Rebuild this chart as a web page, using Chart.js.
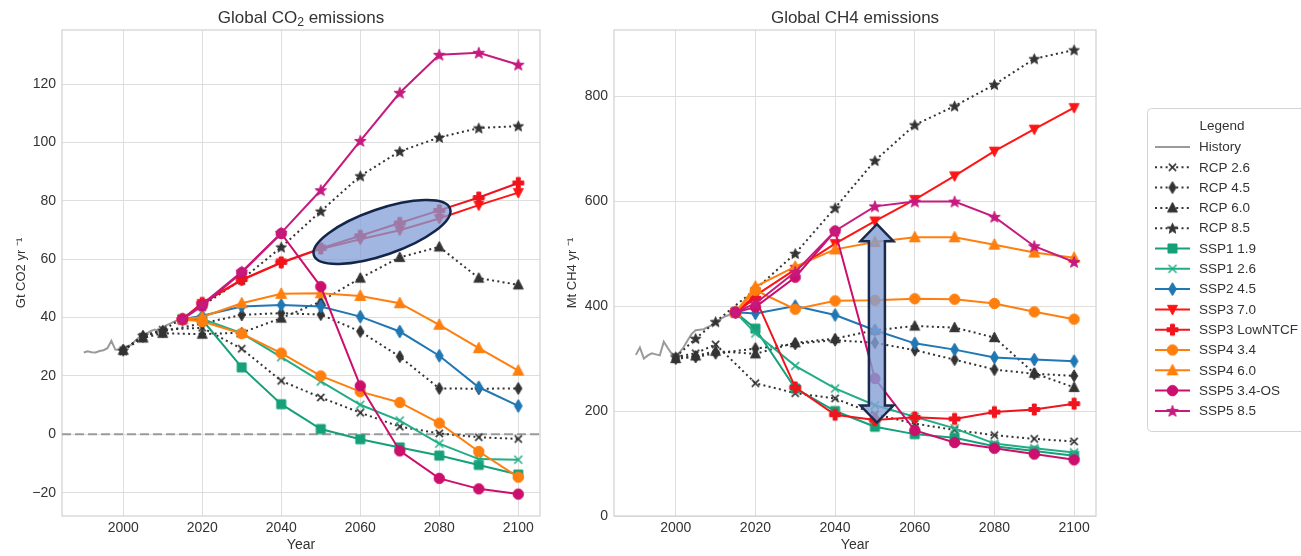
<!DOCTYPE html>
<html>
<head>
<meta charset="utf-8">
<script src="https://cdn.jsdelivr.net/npm/chart.js@4/dist/chart.umd.min.js"></script>
<style>
  html, body { margin: 0; padding: 0; background: #ffffff; }
  #wrap { position: relative; width: 1301px; height: 556px; overflow: hidden; background: #fff; }
  #co2 { position: absolute; left: 0; top: 0; width: 556px; height: 556px; }
  #ch4 { position: absolute; left: 556px; top: 0; width: 745px; height: 556px; }
</style>
</head>
<body>
<div id="wrap">
  <canvas id="co2" width="556" height="556"></canvas>
  <canvas id="ch4" width="745" height="556"></canvas>
</div>
<script>
// ---------------- data ----------------
const historyYears = [1990, 1991, 1992, 1993, 1994, 1995, 1996, 1997, 1998, 1999,
                      2000, 2001, 2002, 2003, 2004, 2005, 2006, 2007, 2008, 2009,
                      2010, 2011, 2012, 2013, 2014, 2015];
const rcpYears = [2000, 2005, 2010, 2020, 2030, 2040, 2050, 2060, 2070, 2080, 2090, 2100];
const sspYears = [2015, 2020, 2030, 2040, 2050, 2060, 2070, 2080, 2090, 2100];

const seriesNames = ['History', 'RCP 2.6', 'RCP 4.5', 'RCP 6.0', 'RCP 8.5',
                     'SSP1 1.9', 'SSP1 2.6', 'SSP2 4.5', 'SSP3 7.0', 'SSP3 LowNTCF',
                     'SSP4 3.4', 'SSP4 6.0', 'SSP5 3.4-OS', 'SSP5 8.5'];

// Global CO2 emissions, Gt CO2 / yr
const co2History = [28.0, 28.4, 28.1, 28.0, 28.5, 28.8, 29.5, 32.0, 29.0, 28.9,
                    29.6, 30.2, 30.6, 32.0, 33.2, 33.8, 34.6, 35.4, 35.9, 35.3,
                    36.6, 37.4, 38.0, 38.7, 39.1, 39.4];
const co2Rcp26 = [28.8, 33.5, 35.8, 36.5, 29.3, 18.3, 12.6, 7.4, 2.6, 0.3, -1.0, -1.6];
const co2Rcp45 = [28.8, 33.5, 35.2, 38.0, 40.9, 41.5, 41.0, 35.2, 26.6, 15.7, 15.6, 15.7];
const co2Rcp60 = [28.8, 33.0, 34.6, 34.3, 34.8, 39.8, 45.5, 53.5, 60.6, 64.2, 53.5, 51.2];
const co2Rcp85 = [28.8, 33.8, 35.6, 44.0, 53.0, 64.1, 76.4, 88.5, 96.9, 101.7, 104.9, 105.6];
const co2Ssp119 = [39.4, 39.2, 22.9, 10.3, 1.8, -1.7, -4.5, -7.3, -10.5, -13.8];
const co2Ssp126 = [39.4, 39.5, 34.6, 26.4, 18.1, 10.1, 4.7, -3.2, -8.5, -8.7];
const co2Ssp245 = [39.4, 40.6, 43.8, 44.3, 43.8, 40.3, 35.2, 26.9, 16.1, 9.7];
const co2Ssp370 = [39.4, 44.8, 52.8, 58.7, 63.5, 66.8, 69.9, 73.9, 78.5, 82.8];
const co2Ssp3Low = [39.4, 45.0, 53.0, 58.9, 63.7, 68.0, 72.4, 76.7, 81.1, 86.1];
const co2Ssp434 = [39.4, 38.6, 34.5, 27.8, 20.0, 14.6, 10.9, 3.8, -5.9, -14.7];
const co2Ssp460 = [39.4, 40.2, 44.9, 48.1, 48.3, 47.4, 44.9, 37.5, 29.5, 21.8];
const co2Ssp534os = [39.4, 44.0, 55.4, 68.8, 50.6, 16.6, -5.7, -15.1, -18.7, -20.5];
const co2Ssp585 = [39.4, 44.5, 55.7, 69.0, 83.6, 100.5, 117.0, 130.0, 130.7, 126.6];

// Global CH4 emissions, Mt CH4 / yr
const ch4History = [307, 321, 300, 306, 310, 308, 306, 332, 320, 309,
                    306, 312, 322, 335, 347, 354, 355, 356, 360, 363,
                    370, 374, 379, 382, 385, 388];
const ch4Rcp26 = [303, 310, 327, 253, 234, 224, 194, 176, 164, 154, 147, 142];
const ch4Rcp45 = [300, 303, 310, 319, 328, 335, 330, 316, 298, 279, 271, 267];
const ch4Rcp60 = [300, 305, 314, 309, 330, 338, 354, 362, 359, 340, 272, 245];
const ch4Rcp85 = [303, 338, 370, 432, 500, 587, 677, 745, 781, 822, 871, 888];
const ch4Ssp119 = [388, 357, 243, 200, 170, 156, 149, 133, 124, 115];
const ch4Ssp126 = [388, 348, 286, 243, 211, 189, 167, 138, 129, 121];
const ch4Ssp245 = [388, 386, 400, 383, 354, 329, 317, 302, 298, 295];
const ch4Ssp370 = [388, 420, 470, 519, 562, 603, 648, 695, 737, 778];
const ch4Ssp3Low = [388, 415, 245, 193, 183, 188, 185, 198, 203, 214];
const ch4Ssp434 = [388, 430, 394, 410, 411, 414, 413, 405, 389, 375];
const ch4Ssp460 = [388, 437, 475, 508, 522, 531, 531, 517, 502, 492];
const ch4Ssp534os = [388, 398, 455, 543, 262, 163, 140, 129, 118, 107];
const ch4Ssp585 = [388, 405, 465, 543, 590, 599, 599, 570, 514, 484];

// tick labels
const yearTicks = [2000, 2020, 2040, 2060, 2080, 2100];
const co2Ticks = [-20, 0, 20, 40, 60, 80, 100, 120];
const ch4Ticks = [0, 200, 400, 600, 800];

// ---------------- styling ----------------
const FONT = '"Liberation Sans", Arial, Helvetica, sans-serif';
const TEXT = '#333333';
Chart.defaults.font.family = FONT;
Chart.defaults.color = TEXT;

const DOT = [2, 3.3];
const lineStyles = {
  'History':      { color: '#9a9a9a', marker: null,      size: 0,  dash: [],  width: 2 },
  'RCP 2.6':      { color: '#333333', marker: 'x',       size: 9,  dash: DOT, width: 2 },
  'RCP 4.5':      { color: '#333333', marker: 'thinDia', size: 12, dash: DOT, width: 2 },
  'RCP 6.0':      { color: '#333333', marker: 'triUp',   size: 11, dash: DOT, width: 2 },
  'RCP 8.5':      { color: '#333333', marker: 'star',    size: 11, dash: DOT, width: 2 },
  'SSP1 1.9':     { color: '#14a078', marker: 'square',  size: 11, dash: [],  width: 2 },
  'SSP1 2.6':     { color: '#22ad86', marker: 'x',       size: 10, dash: [],  width: 2 },
  'SSP2 4.5':     { color: '#1f77b4', marker: 'thinDia', size: 13, dash: [],  width: 2 },
  'SSP3 7.0':     { color: '#ff1414', marker: 'triDown', size: 11, dash: [],  width: 2 },
  'SSP3 LowNTCF': { color: '#f0141e', marker: 'plus',    size: 11, dash: [],  width: 2 },
  'SSP4 3.4':     { color: '#ff7f0e', marker: 'circle',  size: 11, dash: [],  width: 2 },
  'SSP4 6.0':     { color: '#ff7f0e', marker: 'triUp',   size: 12, dash: [],  width: 2 },
  'SSP5 3.4-OS':  { color: '#cc0f6c', marker: 'circle',  size: 11, dash: [],  width: 2 },
  'SSP5 8.5':     { color: '#c61a7e', marker: 'star',    size: 12, dash: [],  width: 2 }
};

// marker glyphs rendered once and handed to Chart.js as point styles
function makeMarker(shape, color, size) {
  const pad = 2;
  const w = Math.ceil(size + pad * 2);
  const c = document.createElement('canvas');
  c.width = w; c.height = w;
  const g = c.getContext('2d');
  const r = size / 2, cx = w / 2, cy = w / 2;
  g.fillStyle = color; g.strokeStyle = color; g.lineWidth = 1; g.lineJoin = 'miter';
  g.beginPath();
  if (shape === 'circle') {
    g.arc(cx, cy, r * 0.95, 0, Math.PI * 2);
  } else if (shape === 'square') {
    g.rect(cx - r * 0.82, cy - r * 0.82, r * 1.64, r * 1.64);
  } else if (shape === 'triUp') {
    g.moveTo(cx, cy - r); g.lineTo(cx + r * 0.9, cy + r * 0.75); g.lineTo(cx - r * 0.9, cy + r * 0.75);
  } else if (shape === 'triDown') {
    g.moveTo(cx, cy + r); g.lineTo(cx + r * 0.9, cy - r * 0.75); g.lineTo(cx - r * 0.9, cy - r * 0.75);
  } else if (shape === 'thinDia') {
    g.moveTo(cx, cy - r); g.lineTo(cx + r * 0.6, cy); g.lineTo(cx, cy + r); g.lineTo(cx - r * 0.6, cy);
  } else if (shape === 'star') {
    for (let k = 0; k < 10; k++) {
      const rr = k % 2 === 0 ? r : r * 0.42;
      const a = -Math.PI / 2 + k * Math.PI / 5;
      const px = cx + rr * Math.cos(a), py = cy + rr * Math.sin(a) + r * 0.08;
      if (k === 0) g.moveTo(px, py); else g.lineTo(px, py);
    }
  } else if (shape === 'plus') {
    const t = r * 0.36;
    g.moveTo(cx - t, cy - r); g.lineTo(cx + t, cy - r); g.lineTo(cx + t, cy - t);
    g.lineTo(cx + r, cy - t); g.lineTo(cx + r, cy + t); g.lineTo(cx + t, cy + t);
    g.lineTo(cx + t, cy + r); g.lineTo(cx - t, cy + r); g.lineTo(cx - t, cy + t);
    g.lineTo(cx - r, cy + t); g.lineTo(cx - r, cy - t); g.lineTo(cx - t, cy - t);
  } else if (shape === 'x') {
    const d = r * 0.8;
    g.moveTo(cx - d, cy - d); g.lineTo(cx + d, cy + d);
    g.moveTo(cx + d, cy - d); g.lineTo(cx - d, cy + d);
    g.lineWidth = 1.6; g.stroke();
    return c;
  }
  g.closePath(); g.fill(); g.stroke();
  return c;
}

const markerCache = {};
seriesNames.forEach(n => {
  const s = lineStyles[n];
  markerCache[n] = s.marker ? makeMarker(s.marker, s.color, s.size) : null;
});

function pts(xs, ys) { return xs.map((x, i) => ({ x: x, y: ys[i] })); }

function buildDatasets(hist, rcps, ssps) {
  const list = [{ name: 'History', data: pts(historyYears, hist) }];
  rcps.forEach((v, i) => list.push({ name: seriesNames[1 + i], data: pts(rcpYears, v) }));
  ssps.forEach((v, i) => list.push({ name: seriesNames[5 + i], data: pts(sspYears, v) }));
  const n = list.length;
  return list.map((d, i) => {
    const s = lineStyles[d.name];
    return {
      label: d.name,
      data: d.data,
      borderColor: s.color,
      backgroundColor: s.color,
      borderWidth: s.width,
      borderDash: s.dash,
      borderCapStyle: 'butt',
      tension: 0,
      pointStyle: markerCache[d.name] || 'circle',
      pointRadius: markerCache[d.name] ? 5 : 0,
      pointHoverRadius: markerCache[d.name] ? 5 : 0,
      order: n - 1 - i
    };
  });
}

function fmtTick(v) { return v < 0 ? '\u2212' + Math.abs(v) : String(v); }

function makeScales(yMin, yMax, yTicks, yTitle, yWidth, yTitlePad) {
  return {
    x: {
      type: 'linear', min: 1984.5, max: 2105.5,
      afterBuildTicks: s => { s.ticks = yearTicks.map(v => ({ value: v })); },
      afterFit: s => { s.height = 40; },
      grid: { color: '#dedede', lineWidth: 1, drawTicks: false },
      border: { display: false },
      ticks: { padding: 4, autoSkip: false, maxRotation: 0, color: TEXT, font: { size: 14 }, callback: v => String(v) },
      title: { display: true, text: 'Year', color: TEXT, font: { size: 14 }, padding: { top: 0, bottom: 2 } }
    },
    y: {
      type: 'linear', min: yMin, max: yMax,
      afterBuildTicks: s => { s.ticks = yTicks.map(v => ({ value: v })); },
      afterFit: s => { s.width = yWidth; },
      grid: { color: '#dedede', lineWidth: 1, drawTicks: false },
      border: { display: false },
      ticks: { padding: 6, autoSkip: false, color: TEXT, font: { size: 14 }, callback: fmtTick },
      title: { display: true, text: yTitle, color: TEXT, font: { size: 13 }, padding: { top: yTitlePad, bottom: 0 } }
    }
  };
}

// light frame around the plotting area
const framePlugin = {
  id: 'frame',
  beforeDatasetsDraw(chart) {
    const a = chart.chartArea, ctx = chart.ctx;
    ctx.save();
    ctx.strokeStyle = '#d2d2d2'; ctx.lineWidth = 1.25;
    ctx.strokeRect(a.left, a.top, a.right - a.left, a.bottom - a.top);
    ctx.restore();
  }
};

// chart heading with optional subscript parts, centred over the plot area
function titlePlugin(parts) {
  return {
    id: 'heading',
    afterDraw(chart) {
      const ctx = chart.ctx, a = chart.chartArea;
      const size = 17, base = 22.5;
      ctx.save();
      let total = 0;
      const widths = parts.map(p => {
        ctx.font = (p.sub ? size * 0.72 : size) + 'px ' + FONT;
        const w = ctx.measureText(p.t).width; total += w; return w;
      });
      let x = (a.left + a.right) / 2 - total / 2;
      ctx.fillStyle = TEXT; ctx.textAlign = 'left'; ctx.textBaseline = 'alphabetic';
      parts.forEach((p, i) => {
        ctx.font = (p.sub ? size * 0.72 : size) + 'px ' + FONT;
        ctx.fillText(p.t, x, p.sub ? base + 3.5 : base);
        x += widths[i];
      });
      ctx.restore();
    }
  };
}

// dashed zero reference line on the CO2 panel
const zeroLinePlugin = {
  id: 'zeroLine',
  beforeDatasetsDraw(chart) {
    const ctx = chart.ctx, a = chart.chartArea;
    const y = chart.scales.y.getPixelForValue(0);
    ctx.save();
    ctx.strokeStyle = '#9a9a9a'; ctx.lineWidth = 1.8; ctx.setLineDash([9, 4]);
    ctx.beginPath(); ctx.moveTo(a.left, y); ctx.lineTo(a.right, y); ctx.stroke();
    ctx.restore();
  }
};

// highlight ellipse around the SSP3 pair on the CO2 panel
const ellipsePlugin = {
  id: 'ssp3Ellipse',
  afterDatasetsDraw(chart) {
    const ctx = chart.ctx;
    const cx = chart.scales.x.getPixelForValue(2065.5);
    const cy = chart.scales.y.getPixelForValue(69.3);
    ctx.save();
    ctx.beginPath();
    ctx.ellipse(cx, cy, 72, 23, -19 * Math.PI / 180, 0, Math.PI * 2);
    ctx.fillStyle = 'rgba(128, 158, 214, 0.74)';
    ctx.fill();
    ctx.strokeStyle = '#14254a'; ctx.lineWidth = 2.5;
    ctx.stroke();
    ctx.restore();
  }
};

// double-headed arrow spanning the 2050 CH4 range
const arrowPlugin = {
  id: 'spreadArrow',
  afterDatasetsDraw(chart) {
    const ctx = chart.ctx;
    const x = chart.scales.x.getPixelForValue(2050.5);
    const yTop = chart.scales.y.getPixelForValue(556);
    const yBot = chart.scales.y.getPixelForValue(178);
    const shaft = 8, head = 16.5, hl = 17;
    ctx.save();
    ctx.beginPath();
    ctx.moveTo(x, yTop);
    ctx.lineTo(x + head, yTop + hl); ctx.lineTo(x + shaft, yTop + hl);
    ctx.lineTo(x + shaft, yBot - hl); ctx.lineTo(x + head, yBot - hl);
    ctx.lineTo(x, yBot);
    ctx.lineTo(x - head, yBot - hl); ctx.lineTo(x - shaft, yBot - hl);
    ctx.lineTo(x - shaft, yTop + hl); ctx.lineTo(x - head, yTop + hl);
    ctx.closePath();
    ctx.fillStyle = 'rgba(133, 160, 214, 0.8)';
    ctx.fill();
    ctx.strokeStyle = '#1a2a4c'; ctx.lineWidth = 2.5; ctx.lineJoin = 'miter';
    ctx.stroke();
    ctx.restore();
  }
};

// boxed legend to the right of the CH4 panel
const sideLegendPlugin = {
  id: 'sideLegend',
  afterDraw(chart) {
    const ctx = chart.ctx;
    const bx = 591.5, by = 108.5, bw = 170, bh = 323, rad = 4;
    ctx.save();
    ctx.beginPath();
    ctx.moveTo(bx + rad, by); ctx.lineTo(bx + bw - rad, by); ctx.arcTo(bx + bw, by, bx + bw, by + rad, rad);
    ctx.lineTo(bx + bw, by + bh - rad); ctx.arcTo(bx + bw, by + bh, bx + bw - rad, by + bh, rad);
    ctx.lineTo(bx + rad, by + bh); ctx.arcTo(bx, by + bh, bx, by + bh - rad, rad);
    ctx.lineTo(bx, by + rad); ctx.arcTo(bx, by, bx + rad, by, rad);
    ctx.closePath();
    ctx.fillStyle = '#ffffff'; ctx.fill();
    ctx.strokeStyle = '#d4d4d4'; ctx.lineWidth = 1; ctx.stroke();

    ctx.fillStyle = TEXT;
    ctx.font = '13.5px ' + FONT;
    ctx.textAlign = 'center'; ctx.textBaseline = 'middle';
    ctx.fillText('Legend', 666, 126);

    chart.data.datasets.forEach((ds, i) => {
      const yy = 147 + i * 20.3;
      ctx.save();
      ctx.strokeStyle = ds.borderColor; ctx.lineWidth = ds.borderWidth;
      ctx.setLineDash(ds.borderDash || []);
      ctx.beginPath(); ctx.moveTo(599, yy); ctx.lineTo(634, yy); ctx.stroke();
      ctx.restore();
      const m = markerCache[ds.label];
      if (m) ctx.drawImage(m, 616.5 - m.width / 2, yy - m.height / 2);
      ctx.fillStyle = TEXT; ctx.textAlign = 'left'; ctx.textBaseline = 'middle';
      ctx.font = '13.5px ' + FONT;
      ctx.fillText(ds.label, 643, yy + 0.5);
    });
    ctx.restore();
  }
};

const common = {
  responsive: false,
  animation: false,
  events: [],
  plugins: { legend: { display: false }, title: { display: false }, tooltip: { enabled: false } }
};

new Chart(document.getElementById('co2'), {
  type: 'line',
  data: {
    datasets: buildDatasets(co2History,
      [co2Rcp26, co2Rcp45, co2Rcp60, co2Rcp85],
      [co2Ssp119, co2Ssp126, co2Ssp245, co2Ssp370, co2Ssp3Low, co2Ssp434, co2Ssp460, co2Ssp534os, co2Ssp585])
  },
  options: Object.assign({}, common, {
    layout: { padding: { top: 30, right: 16, left: 0, bottom: 0 } },
    scales: makeScales(-28, 138.5, co2Ticks, 'Gt CO2 yr \u207B\u00B9', 62, 14)
  }),
  plugins: [framePlugin, zeroLinePlugin, ellipsePlugin,
    titlePlugin([{ t: 'Global CO' }, { t: '2', sub: true }, { t: ' emissions' }])]
});

new Chart(document.getElementById('ch4'), {
  type: 'line',
  data: {
    datasets: buildDatasets(ch4History,
      [ch4Rcp26, ch4Rcp45, ch4Rcp60, ch4Rcp85],
      [ch4Ssp119, ch4Ssp126, ch4Ssp245, ch4Ssp370, ch4Ssp3Low, ch4Ssp434, ch4Ssp460, ch4Ssp534os, ch4Ssp585])
  },
  options: Object.assign({}, common, {
    layout: { padding: { top: 30, right: 205, left: 0, bottom: 0 } },
    scales: makeScales(0, 926, ch4Ticks, 'Mt CH4 yr \u207B\u00B9', 58, 9)
  }),
  plugins: [framePlugin, arrowPlugin, sideLegendPlugin,
    titlePlugin([{ t: 'Global CH4 emissions' }])]
});
</script>
</body>
</html>
